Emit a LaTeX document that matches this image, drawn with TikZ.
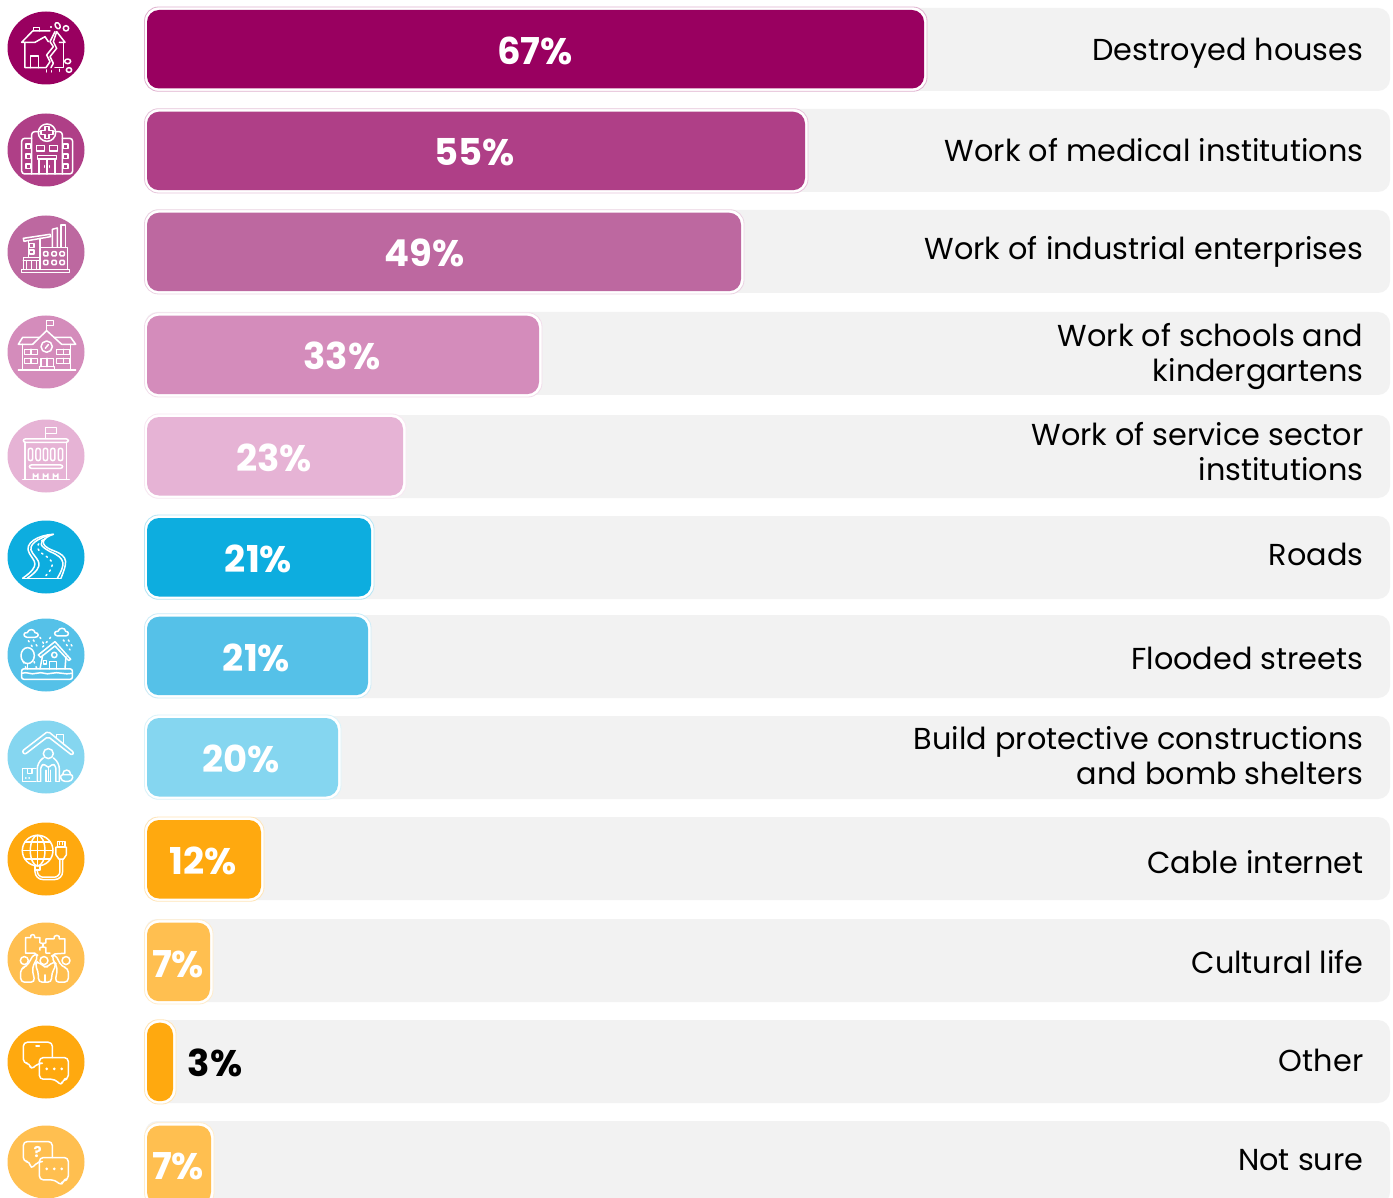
\documentclass[tikz,border=0pt]{standalone}
\usepackage{fontspec}
\setmainfont{Poppins}
\definecolor{cA}{HTML}{990060}
\definecolor{cB}{HTML}{AF3F87}
\definecolor{cC}{HTML}{BD68A0}
\definecolor{cD}{HTML}{D48CBB}
\definecolor{cE}{HTML}{E6B3D5}
\definecolor{cF}{HTML}{0DADDF}
\definecolor{cG}{HTML}{55C1E8}
\definecolor{cH}{HTML}{85D6F0}
\definecolor{cI}{HTML}{FFA90F}
\definecolor{cJ}{HTML}{FFBF50}
\definecolor{track}{HTML}{F2F2F2}
\tikzset{
  trackbar/.style={fill=track,rounded corners=12pt},
  pctlabel/.style={font=\fontsize{37}{40}\selectfont\bfseries,text=white,inner sep=0pt},
  rowlabel/.style={font=\fontsize{30.3}{35}\selectfont,anchor=east,align=right,inner sep=0pt,text=black},
  ic/.style={draw=white,line width=1.5pt,line join=round,line cap=round},
  dots/.style={ic,dash pattern=on 1.5pt off 4pt}
}
% track top, bar top, right end, colour, icon centre y
\newcommand{\rowbar}[5]{%
  \path[trackbar] (145,#1) rectangle (1390,#1+83);
  \path[fill=white,draw=#4!30!white,line width=0.8pt,rounded corners=14pt] (144.5,#2-3) rectangle (#3+3,#2+81.3);
  \path[fill=#4,rounded corners=12pt] (147,#2) rectangle (#3,#2+78.5);
  \fill[#4] (46,#5) ellipse [x radius=38.5,y radius=36.5];
}
\begin{document}
\begin{tikzpicture}[x=1pt,y=-1pt]
\useasboundingbox (0,0) rectangle (1393,1198);
\fill[white] (0,0) rectangle (1393,1198);
\begin{scope}
\clip (0,0) rectangle (1393,1198);
\rowbar{8}{10}{924}{cA}{48}
\rowbar{109}{111.7}{805}{cB}{150}
\rowbar{210}{212.7}{741}{cC}{252}
\rowbar{312}{315.7}{539}{cD}{352}
\rowbar{415}{417}{403}{cE}{456}
\rowbar{516}{518}{371}{cF}{557}
\rowbar{615}{616.7}{368}{cG}{655}
\rowbar{716}{718}{338}{cH}{757}
\rowbar{817}{820}{261}{cI}{859}
\rowbar{919}{922.7}{210}{cJ}{959}
\rowbar{1020}{1022.7}{173}{cI}{1062}
\rowbar{1121}{1125.7}{211}{cJ}{1162}
\end{scope}

\node[pctlabel] (p1) at (535,51) {67\%};
\node[pctlabel] (p2) at (475,152) {55\%};
\node[pctlabel] (p3) at (424.5,253) {49\%};
\node[pctlabel] (p4) at (342,356) {33\%};
\node[pctlabel] (p5) at (274,458) {23\%};
\node[pctlabel] (p6) at (258.5,559) {21\%};
\node[pctlabel] (p7) at (256.5,658) {21\%};
\node[pctlabel] (p8) at (241,759) {20\%};
\node[pctlabel] (p9) at (203.5,861) {12\%};
\node[pctlabel] (p10) at (178,964) {7\%};
\node[pctlabel,text=black] (p11) at (215,1063) {3\%};
\node[pctlabel] (p12) at (178,1166.5) {7\%};

\node[rowlabel] (l1) at (1363.5,53) {Destroyed houses};
\node[rowlabel] (l2) at (1363.5,150) {Work of medical institutions};
\node[rowlabel] (l3) at (1363.5,252) {Work of industrial enterprises};
\node[rowlabel] (l4) at (1363.5,357) {Work of schools and\\kindergartens};
\node[rowlabel] (l5) at (1363.5,452) {Work of service sector\\institutions};
\node[rowlabel] (l6) at (1363.5,554) {Roads};
\node[rowlabel] (l7) at (1363.5,658) {Flooded streets};
\node[rowlabel] (l8) at (1363.5,756) {Build protective constructions\\and bomb shelters};
\node[rowlabel] (l9) at (1363.5,862) {Cable internet};
\node[rowlabel] (l10) at (1363.5,962) {Cultural life};
\node[rowlabel] (l11) at (1363.5,1060) {Other};
\node[rowlabel] (l12) at (1363.5,1160) {Not sure};

% --- icon 1: destroyed house
\begin{scope}[x=0.3333pt,y=-0.3333pt]
\draw[ic] (150,93)--(98,93)--(65,127)--(105,127)--(135,110)--(145,125);
\draw[ic] (165,95)--(150,125)--(160,140)--(140,165)--(150,185)--(138,203)--(75,203)--(75,127);
\draw[ic] (170,95)--(160,125)--(170,145)--(150,170)--(160,190)--(153,203);
\draw[ic] (170,95)--(195,127)--(178,127);
\draw[ic] (190,127)--(190,203)--(165,203);
\draw[ic] (92,203)--(92,168)--(115,168)--(115,203);
\draw[ic] (101,93)--(101,83)--(118,83)--(118,93);
\draw[ic,rotate around={30:(173,77)}] (173,77) ellipse [x radius=7,y radius=10];
\draw[ic] (198,85) ellipse [x radius=8,y radius=8];
\draw[ic] (203,184) ellipse [x radius=9,y radius=7];
\draw[ic] (207,210) ellipse [x radius=8,y radius=7];
\draw[ic] (153,80)--(153,82) (140,210)--(140,216) (155,212)--(155,216) (178,208)--(178,214);
\end{scope}

% --- icon 2: hospital
\begin{scope}[x=0.3333pt,y=-0.3333pt]
\draw[ic,rounded corners=3pt] (118,395)--(95,395)--(95,522);
\draw[ic,rounded corners=3pt] (165,395)--(187,395)--(187,522);
\draw[ic] (141,398) circle [radius=26];
\draw[ic] (135,380)--(147,380)--(147,392)--(159,392)--(159,404)--(147,404)--(147,416)--(135,416)--(135,404)--(123,404)--(123,392)--(135,392)--cycle;
\draw[ic,rounded corners=3pt] (95,415)--(65,415)--(65,522)--(218,522)--(218,415)--(187,415);
\foreach \yy in {432,462,492}{
  \draw[ic] (78,\yy) rectangle (92,\yy+14);
  \draw[ic] (190,\yy) rectangle (204,\yy+14);
}
\draw[ic] (109,437) rectangle (133,453);
\draw[ic] (148,437) rectangle (172,453);
\draw[ic] (112,467) rectangle (170,477);
\draw[ic] (117,522)--(117,477) (165,477)--(165,522) (141,477)--(141,522);
\draw[ic] (133,497)--(133,502) (149,497)--(149,502);
\end{scope}

% --- icon 3: factory
\begin{scope}[x=0.3333pt,y=-0.3333pt,shift={(0,600)}]
\draw[ic] (65,208) rectangle (208,217);
\draw[ic] (157,142)--(157,88)--(172,84)--(172,142);
\draw[ic] (183,142)--(183,75)--(197,75)--(197,142);
\draw[ic] (120,208)--(120,142)--(203,142)--(203,208);
\draw[ic] (70,115)--(150,103)--(152,110)--(72,124)--cycle;
\draw[ic] (85,172)--(85,122) (120,142)--(120,115);
\draw[ic] (70,208)--(70,172)--(120,172);
\draw[ic] (70,182)--(120,182) (80,182)--(80,208) (95,182)--(95,208) (110,182)--(110,208);
\draw[ic] (88,130) rectangle (102,142);
\draw[ic] (88,150) rectangle (102,162);
\foreach \xx in {131,156,180}{\foreach \yy in {155,181}{
  \draw[ic,rounded corners=1pt] (\xx,\yy) rectangle (\xx+13,\yy+13);}}
\end{scope}

% --- icon 4: school
\begin{scope}[x=0.3333pt,y=-0.3333pt,shift={(0,600)}]
\draw[ic] (140,392)--(140,362)--(160,362)--(160,377)--(140,377);
\draw[ic] (98,433)--(140,392)--(185,433);
\draw[ic] (118,412)--(68,412)--(55,433)--(98,433);
\draw[ic] (162,412)--(212,412)--(227,433)--(185,433);
\draw[ic] (68,433)--(68,510) (212,433)--(212,510);
\draw[ic] (55,510)--(227,510);
\draw[ic] (140,440) circle [radius=17];
\draw[ic] (136,445)--(145,434);
\foreach \xx in {73,170}{\foreach \yy in {448,475}{
  \draw[ic] (\xx,\yy) rectangle (\xx+40,\yy+15);
  \draw[ic] (\xx+20,\yy)--(\xx+20,\yy+15);}}
\draw[ic] (123,500)--(123,475)--(160,475)--(160,500) (141,475)--(141,500);
\draw[ic] (118,510)--(118,500)--(163,500)--(163,510);
\end{scope}

% --- icon 5: service building
\begin{scope}[x=0.3333pt,y=-0.3333pt,shift={(0,600)}]
\draw[ic] (137,715)--(137,683)--(170,683)--(170,700)--(137,700);
\draw[ic,rounded corners=2pt] (70,717) rectangle (205,727);
\draw[ic] (75,727)--(75,838) (200,727)--(200,838);
\draw[ic] (68,838)--(208,838);
\foreach \xx in {85,108,130,152,175}{
  \draw[ic,rounded corners=2pt] (\xx,745) rectangle (\xx+13,782);}
\draw[ic,rounded corners=2pt] (88,795) rectangle (188,805);
\foreach \xx in {100,130,160}{
  \draw[ic] (\xx,836)--(\xx,822) arc[start angle=180,end angle=0,x radius=7,y radius=7]--(\xx+14,836);}
\end{scope}

% --- icon 6: road
\begin{scope}[x=0.3333pt,y=-0.3333pt,shift={(0,1500)}]
\draw[ic] (160,103) .. controls (115,105) and (70,130) .. (88,160) .. controls (102,185) and (125,195) .. (68,235);
\draw[ic] (150,105) .. controls (115,115) and (80,135) .. (97,158) .. controls (112,182) and (140,195) .. (82,235);
\draw[ic] (160,103) .. controls (125,115) and (115,135) .. (160,152) .. controls (210,170) and (200,190) .. (183,235);
\draw[ic] (135,116) .. controls (120,130) and (115,135) .. (150,155) .. controls (200,175) and (195,195) .. (172,235);
\draw[dots] (128,120) .. controls (100,140) and (115,155) .. (140,170) .. controls (170,190) and (155,210) .. (130,235);
\draw[ic,line width=0.8pt] (68,235)--(183,235);
\end{scope}

% --- icon 7: flood
\begin{scope}[x=0.3333pt,y=-0.3333pt,shift={(30,1860)}]
\draw[ic] (50,52) .. controls (38,50) and (40,36) .. (52,38) .. controls (55,26) and (74,26) .. (75,38) .. controls (88,38) and (88,52) .. (75,52)--cycle;
\draw[ic] (142,48) .. controls (130,46) and (132,32) .. (144,34) .. controls (147,22) and (166,22) .. (167,34) .. controls (178,34) and (178,48) .. (167,48)--cycle;
\draw[ic] (53,107) ellipse [x radius=20,y radius=24];
\draw[ic] (53,131)--(53,147);
\draw[ic] (85,105)--(135,65)--(182,118)--(176,122)--(135,78)--(92,112)--cycle;
\draw[ic] (98,106)--(90,147) (168,110)--(165,147);
\draw[ic] (133,105) circle [radius=8];
\draw[ic] (118,147)--(118,125)--(140,125)--(140,147);
\draw[ic] (100,122) rectangle (110,132);
\draw[ic,rounded corners=2pt] (35,147) rectangle (187,178);
\draw[ic] (35,160) .. controls (55,154) and (60,166) .. (80,160) .. controls (100,154) and (105,166) .. (125,160) .. controls (145,154) and (165,166) .. (187,160);
\draw[dots] (55,62)--(70,85) (70,60)--(85,85) (90,52)--(105,78) (122,52)--(95,85) (175,60)--(190,85) (160,60)--(180,90) (40,125)--(48,145) (72,125)--(80,145);
\end{scope}

% --- icon 8: shelter
\begin{scope}[x=0.3333pt,y=-0.3333pt,shift={(30,2166)}]
\draw[ic,rounded corners=2pt] (36,88)--(114,28)--(192,92)--(186,100)--(114,44)--(44,98)--cycle;
\draw[ic] (140,50)--(140,37)--(160,37)--(160,68);
\draw[ic] (115,95) circle [radius=15];
\draw[ic,rounded corners=6pt] (82,178)--(82,122)--(100,108);
\draw[ic,rounded corners=6pt] (148,178)--(148,122)--(130,108);
\draw[ic,rounded corners=3pt] (92,178)--(92,132)--(104,125)--(115,140)--(126,125)--(138,132)--(138,178);
\draw[ic] (115,140)--(115,178);
\draw[ic] (82,178)--(92,178) (108,178)--(122,178) (138,178)--(148,178);
\draw[ic] (108,178)--(108,145) (122,178)--(122,145);
\draw[ic] (38,178)--(38,140)--(78,140) (38,178)--(78,178);
\draw[ic] (52,140)--(52,155)--(66,155)--(66,140);
\draw[ic] (47,168)--(48,168) (57,168)--(58,168);
\draw[ic,rounded corners=3pt] (150,158)--(190,158)--(185,178)--(155,178)--cycle;
\draw[ic] (158,158) .. controls (158,140) and (182,140) .. (182,158);
\end{scope}

% --- icon 9: cable internet
\begin{scope}[x=0.3333pt,y=-0.3333pt,shift={(0,2400)}]
\draw[ic] (113,152) circle [radius=46];
\draw[ic] (113,152) ellipse [x radius=22,y radius=46];
\draw[ic] (113,106)--(113,198);
\draw[ic] (75,126)--(151,126) (67,152)--(159,152) (75,178)--(151,178);
\draw[ic] (105,198)--(105,210)--(120,210)--(120,198);
\draw[ic] (172,142)--(172,125)--(195,125)--(195,142)--cycle;
\draw[ic] (168,142)--(199,142)--(199,165)--(190,178)--(177,178)--(168,165)--cycle;
\draw[ic] (179,125)--(179,134) (188,125)--(188,134);
\draw[ic,rounded corners=6pt] (180,178)--(180,232)--(112,232)--(112,210);
\draw[ic,rounded corners=8pt] (188,178)--(188,239)--(105,239)--(105,210);
\end{scope}

% --- icon 10: puzzle and people
\begin{scope}[x=0.3333pt,y=-0.3333pt,shift={(30,2775)}]
\draw[ic] (75,85)--(47,85)--(47,38)--(62,38) .. controls (58,26) and (78,26) .. (74,38)--(90,38)--(90,54) .. controls (102,50) and (102,72) .. (90,68)--(90,76);
\draw[ic] (135,87)--(165,85)--(165,42)--(148,42) .. controls (153,28) and (128,28) .. (132,42)--(108,42)--(108,54) .. controls (96,50) and (96,72) .. (108,68)--(108,85)--(120,85);
\draw[ic] (43,107) circle [radius=12];
\draw[ic] (102,107) circle [radius=12];
\draw[ic] (168,107) circle [radius=12];
\draw[ic,rounded corners=4pt] (32,172)--(32,130)--(50,125)--(73,85)--(85,92)--(66,130)--(75,172)--cycle;
\draw[ic,rounded corners=4pt] (175,172)--(175,130)--(155,125)--(135,87)--(124,94)--(143,130)--(135,172)--cycle;
\draw[ic,rounded corners=4pt] (85,172)--(85,140)--(74,118)--(84,108)--(100,126)--(115,126)--(130,108)--(140,118)--(125,145)--(125,172)--cycle;
\draw[ic] (105,150)--(105,172);
\end{scope}

% --- icon 11: chat
\begin{scope}[x=0.3333pt,y=-0.3333pt,shift={(0,2400)}]
\draw[ic,rounded corners=4pt] (118,790)--(115,790)--(92,810)--(90,790)--(70,790)--(70,727)--(157,727)--(157,773);
\draw[ic,rounded corners=4pt] (118,773)--(205,773)--(205,838)--(188,838)--(185,858)--(165,838)--(118,838)--cycle;
\draw[ic] (108,738)--(118,738);
\fill[white] (140,807) circle [radius=4.5] (163,807) circle [radius=4.5] (185,807) circle [radius=4.5];
\end{scope}

% --- icon 12: chat with question
\begin{scope}[x=0.3333pt,y=-0.3333pt,shift={(0,2400)}]
\draw[ic,rounded corners=4pt] (118,1085)--(115,1085)--(92,1108)--(90,1085)--(70,1085)--(70,1025)--(157,1025)--(157,1073);
\draw[ic,rounded corners=4pt] (118,1073)--(205,1073)--(205,1140)--(188,1140)--(185,1158)--(165,1140)--(118,1140)--cycle;
\fill[white] (140,1107) circle [radius=4.5] (163,1107) circle [radius=4.5] (185,1107) circle [radius=4.5];
\node[font=\fontsize{15}{15}\selectfont\bfseries,text=white,inner sep=0pt] (q) at (113,1056) {?};
\end{scope}
\end{tikzpicture}
\end{document}
